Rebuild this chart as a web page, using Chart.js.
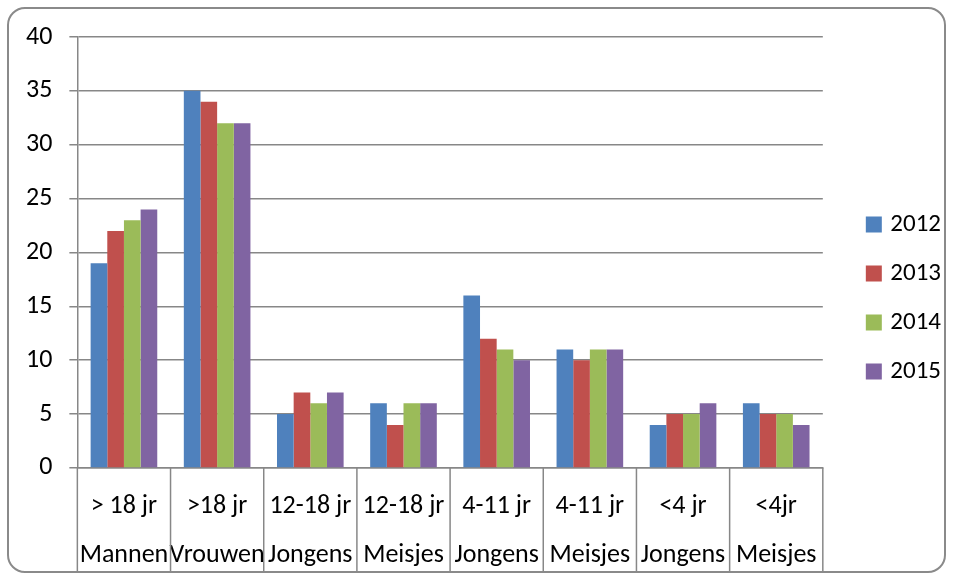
<!DOCTYPE html>
<html><head><meta charset="utf-8">
<script src="https://cdn.jsdelivr.net/npm/chart.js@4/dist/chart.umd.min.js"></script>
<style>
html,body{margin:0;padding:0;background:#fff;}
#wrap{position:relative;width:955px;height:579px;}
#frame{position:absolute;left:7px;top:7px;width:939px;height:566px;border:2px solid #8a8a8a;border-radius:18px;box-sizing:border-box;}
canvas{position:absolute;left:0;top:0;}
</style></head>
<body><div id="wrap"><div id="frame"></div><canvas id="c" width="955" height="579"></canvas></div>
<script>
const ageGroups = ['> 18 jr','>18 jr','12-18 jr','12-18 jr','4-11 jr','4-11 jr','<4 jr','<4jr'];
const genders = ['Mannen','Vrouwen','Jongens','Meisjes','Jongens','Meisjes','Jongens','Meisjes'];
const years = ['2012','2013','2014','2015'];
const v2012 = [19,35,5,6,16,11,4,6];
const v2013 = [22,34,7,4,12,10,5,5];
const v2014 = [23,32,6,6,11,11,5,5];
const v2015 = [24,32,7,6,10,11,6,4];
const yTicks = [0,5,10,15,20,25,30,35,40];

const colors = ['#4F81BD','#C0504D','#9BBB59','#8064A2'];
const series = [v2012,v2013,v2014,v2015];
const labels = ageGroups.map((a,i)=>[a, genders[i]]);
const FONT = 'Carlito, Lato, sans-serif';
const grey = '#878787';

const separators = {
  id:'separators',
  afterLayout(chart){
    const l = chart.legend;
    if(l){ l.top -= 18; l.bottom -= 18; l.left += 23; l.right += 23; }
  },
  afterDraw(chart){
    const s = chart.scales.x, ctx = chart.ctx, n = s.ticks.length;
    const xs = [s.left];
    for(let i=1;i<n;i++) xs.push((s.getPixelForValue(i-1)+s.getPixelForValue(i))/2);
    xs.push(s.right);
    ctx.save();
    ctx.strokeStyle = grey; ctx.lineWidth = 1.5;
    const y0 = chart.chartArea.bottom, y1 = y0 + 103;
    xs.forEach(x=>{ ctx.beginPath(); ctx.moveTo(x,y0); ctx.lineTo(x,y1); ctx.stroke(); });
    ctx.restore();
  }
};

new Chart(document.getElementById('c'), {
  type: 'bar',
  data: {
    labels: labels,
    datasets: years.map((y,i)=>({label:y, data:series[i], backgroundColor:colors[i], borderWidth:0,
      categoryPercentage:0.715, barPercentage:1}))
  },
  options: {
    responsive:false, animation:false,
    layout:{padding:{left:9,top:37,right:27,bottom:-16}},
    plugins:{
      tooltip:{enabled:false},
      legend:{position:'right', align:'center',
        labels:{font:{family:FONT,size:25}, color:'#000', usePointStyle:true, pointStyle:'rect',
          boxWidth:8, boxHeight:16, padding:24}}
    },
    scales:{
      x:{
        grid:{display:true, drawOnChartArea:false, drawTicks:false, offset:true, color:grey, lineWidth:1.5},
        border:{color:grey, width:1.5},
        ticks:{font:{family:FONT,size:26,lineHeight:1.885}, color:'#000', padding:14.5, maxRotation:0, autoSkip:false}
      },
      y:{
        min:0, max:40,
        afterBuildTicks: s => { s.ticks = yTicks.map(v=>({value:v})); },
        grid:{color:grey, lineWidth:1.5, tickLength:8},
        border:{color:grey, width:1.5},
        ticks:{font:{family:FONT,size:26}, color:'#000', padding:17}
      }
    }
  },
  plugins:[separators]
});
</script></body></html>
